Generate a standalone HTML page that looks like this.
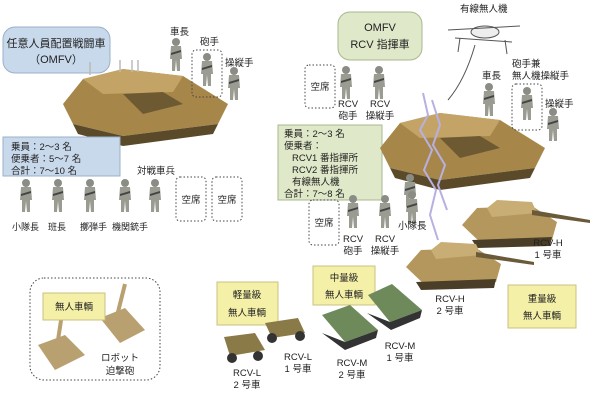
<!DOCTYPE html>
<html><head><meta charset="utf-8"><style>
html,body{margin:0;padding:0;background:#fff;}
svg text{font-family:"Liberation Sans","Noto Sans CJK JP",sans-serif;fill:#222;}
</style></head><body>
<svg width="600" height="400" viewBox="0 0 600 400" xmlns="http://www.w3.org/2000/svg">
<defs>
<g id="sol"><circle cx="0" cy="-13" r="4" fill="#8a8d85"/><path d="M-5,-9 L5,-9 L6,4 L4,4 L4,16 L1,16 L0,5 L-1,16 L-4,16 L-4,4 L-6,4 Z" fill="#9a9c92"/><path d="M-5,-2 L5,-5 L5,-3 L-5,0Z" fill="#444"/></g>
<g id="tank"><path d="M0,40 L20,15 L60,5 L120,12 L165,40 L155,60 L60,72 L10,60 Z" fill="#a7864a"/><path d="M20,15 L60,5 L120,12 L110,28 L40,30 Z" fill="#c4a466"/><path d="M10,60 L60,72 L155,60 L150,70 L60,82 L15,70Z" fill="#5a4a2a"/><path d="M60,30 L100,28 L120,40 L80,50 Z" fill="#6e5a32"/></g>
<g id="mbt"><path d="M0,25 L15,8 L70,6 L95,22 L90,40 L20,44 Z" fill="#b4975c"/><path d="M25,8 L35,0 L70,2 L75,13 L30,17Z" fill="#c8ad74"/><path d="M70,10 L128,20 L128,23 L70,15Z" fill="#6a5a3a"/><path d="M10,40 L90,37 L88,46 L15,48Z" fill="#4a3e28"/></g>
</defs>

<rect x="3" y="27" width="107" height="46" rx="12" fill="#c9d9ec" stroke="#9ab0c8"/>
<text x="56" y="47" font-size="11" text-anchor="middle">任意人員配置戦闘車</text>
<text x="56" y="63" font-size="11" text-anchor="middle">（OMFV）</text>
<use href="#tank" x="63" y="64"/>
<g stroke="#bbb" stroke-width="1.5"><line x1="90" y1="62" x2="90" y2="75"/><line x1="120" y1="60" x2="120" y2="72"/><line x1="132" y1="60" x2="132" y2="72"/><line x1="138" y1="60" x2="138" y2="72"/></g>

<rect x="3" y="137" width="117" height="39" fill="#c9d9ec" stroke="#9ab0c8"/>
<text x="11" y="150" font-size="9.5">乗員：2～3 名</text>
<text x="11" y="162" font-size="9.5">便乗者：5～7 名</text>
<text x="11" y="174" font-size="9.5">合計：7～10 名</text>

<text x="170" y="35" font-size="9.5">車長</text>
<use href="#sol" x="176" y="55"/>
<text x="200" y="45" font-size="9.5">砲手</text>
<rect x="192" y="50" width="30" height="47" rx="4" fill="none" stroke="#444" stroke-dasharray="1.5,2"/>
<use href="#sol" x="207" y="70"/>
<text x="225" y="66" font-size="9.5">操縦手</text>
<use href="#sol" x="234" y="84"/>

<text x="137" y="174" font-size="9.5">対戦車兵</text>
<rect x="176" y="177" width="30" height="44" rx="4" fill="none" stroke="#444" stroke-dasharray="1.5,2"/>
<rect x="212" y="177" width="30" height="44" rx="4" fill="none" stroke="#444" stroke-dasharray="1.5,2"/>
<text x="191" y="203" font-size="9.5" text-anchor="middle">空席</text>
<text x="227" y="203" font-size="9.5" text-anchor="middle">空席</text>
<use href="#sol" x="26" y="196"/><use href="#sol" x="58" y="196"/><use href="#sol" x="90" y="196"/><use href="#sol" x="125" y="196"/><use href="#sol" x="155" y="196"/>
<text x="12" y="230" font-size="9">小隊長</text>
<text x="48" y="230" font-size="9">班長</text>
<text x="80" y="230" font-size="9">擲弾手</text>
<text x="112" y="230" font-size="9">機関銃手</text>

<rect x="338" y="12" width="84" height="48" rx="12" fill="#dfe8c8" stroke="#a8b890"/>
<text x="380" y="31" font-size="11" text-anchor="middle">OMFV</text>
<text x="380" y="48" font-size="11" text-anchor="middle">RCV 指揮車</text>
<text x="460" y="12" font-size="9.5">有線無人機</text>
<g stroke="#555" fill="none"><ellipse cx="485" cy="32" rx="14" ry="6" fill="#eee"/><line x1="448" y1="30" x2="520" y2="26"/><line x1="455" y1="38" x2="512" y2="42"/><line x1="460" y1="38" x2="458" y2="52"/><line x1="505" y1="40" x2="507" y2="54"/><path d="M475,45 Q465,80 448,100"/></g>
<rect x="305" y="65" width="30" height="43" rx="4" fill="none" stroke="#444" stroke-dasharray="1.5,2"/>
<text x="320" y="90" font-size="9.5" text-anchor="middle">空席</text>
<use href="#sol" x="346" y="83"/><use href="#sol" x="379" y="83"/>
<text x="348" y="107" font-size="9.5" text-anchor="middle">RCV</text><text x="348" y="119" font-size="9.5" text-anchor="middle">砲手</text>
<text x="380" y="107" font-size="9.5" text-anchor="middle">RCV</text><text x="380" y="119" font-size="9.5" text-anchor="middle">操縦手</text>

<rect x="278" y="125" width="104" height="75" fill="#dfe8c8" stroke="#a8b890"/>
<text x="284" y="137" font-size="9.5">乗員：2～3 名</text>
<text x="284" y="149" font-size="9.5">便乗者：</text>
<text x="292" y="161" font-size="9.5">RCV1 番指揮所</text>
<text x="292" y="173" font-size="9.5">RCV2 番指揮所</text>
<text x="292" y="185" font-size="9.5">有線無人機</text>
<text x="284" y="197" font-size="9.5">合計：7～8 名</text>

<use href="#tank" x="380" y="108"/>
<text x="482" y="79" font-size="9.5">車長</text>
<use href="#sol" x="489" y="100"/>
<text x="512" y="67" font-size="9.5">砲手兼</text>
<text x="512" y="79" font-size="9.5">無人機操縦手</text>
<rect x="512" y="84" width="30" height="46" rx="4" fill="none" stroke="#444" stroke-dasharray="1.5,2"/>
<use href="#sol" x="527" y="104"/>
<text x="545" y="107" font-size="9.5">操縦手</text>
<use href="#sol" x="553" y="125"/>

<g fill="none" stroke="#b8b0e0" stroke-width="2"><polyline points="423,93 428,115 420,130 432,150 424,170 436,190 430,215 438,240"/><polyline points="432,100 440,125 433,145 445,165 438,185 447,210"/></g>

<use href="#sol" x="410" y="191"/>
<rect x="309" y="200" width="30" height="45" rx="4" fill="none" stroke="#444" stroke-dasharray="1.5,2"/>
<text x="324" y="226" font-size="9.5" text-anchor="middle">空席</text>
<use href="#sol" x="353" y="212"/><use href="#sol" x="385" y="212"/><use href="#sol" x="412" y="208"/>
<text x="353" y="242" font-size="9.5" text-anchor="middle">RCV</text><text x="353" y="254" font-size="9.5" text-anchor="middle">砲手</text>
<text x="385" y="242" font-size="9.5" text-anchor="middle">RCV</text><text x="385" y="254" font-size="9.5" text-anchor="middle">操縦手</text>
<text x="398" y="229" font-size="9.5">小隊長</text>

<use href="#mbt" x="462" y="200"/>
<text x="548" y="246" font-size="9.5" text-anchor="middle">RCV-H</text><text x="548" y="258" font-size="9.5" text-anchor="middle">1 号車</text>
<use href="#mbt" x="406" y="242"/>
<text x="450" y="302" font-size="9.5" text-anchor="middle">RCV-H</text><text x="450" y="314" font-size="9.5" text-anchor="middle">2 号車</text>
<rect x="508" y="285" width="68" height="43" fill="#f5f0a8" stroke="#c8c080"/>
<text x="542" y="302" font-size="9.5" text-anchor="middle">重量級</text><text x="542" y="319" font-size="9.5" text-anchor="middle">無人車輌</text>

<rect x="30" y="278" width="130" height="102" rx="14" fill="none" stroke="#444" stroke-dasharray="1.5,2"/>
<path d="M38,345 L65,335 L85,355 L55,370Z" fill="#b9a070"/><line x1="58" y1="340" x2="62" y2="314" stroke="#b9a070" stroke-width="4"/>
<path d="M100,318 L125,308 L145,330 L120,343Z" fill="#b9a070"/><line x1="118" y1="312" x2="125" y2="284" stroke="#b9a070" stroke-width="4"/>
<rect x="43" y="293" width="62" height="27" fill="#f5f0a8" stroke="#c8c080"/>
<text x="74" y="310" font-size="9.5" text-anchor="middle">無人車輌</text>
<text x="120" y="361" font-size="9.5" text-anchor="middle">ロボット</text><text x="120" y="374" font-size="9.5" text-anchor="middle">迫撃砲</text>

<rect x="217" y="282" width="61" height="43" fill="#f5f0a8" stroke="#c8c080"/>
<text x="247" y="298" font-size="9.5" text-anchor="middle">軽量級</text><text x="247" y="316" font-size="9.5" text-anchor="middle">無人車輌</text>
<rect x="313" y="266" width="62" height="39" fill="#f5f0a8" stroke="#c8c080"/>
<text x="344" y="281" font-size="9.5" text-anchor="middle">中量級</text><text x="344" y="298" font-size="9.5" text-anchor="middle">無人車輌</text>

<path d="M224,337 L255,333 L265,350 L230,356Z" fill="#8a7a48"/><circle cx="232" cy="358" r="5" fill="#333"/><circle cx="258" cy="356" r="5" fill="#333"/>
<path d="M265,323 L298,318 L305,333 L272,338Z" fill="#8a7a48"/><circle cx="272" cy="338" r="5" fill="#333"/><circle cx="300" cy="336" r="5" fill="#333"/>
<text x="298" y="360" font-size="9.5" text-anchor="middle">RCV-L</text><text x="298" y="372" font-size="9.5" text-anchor="middle">1 号車</text>
<text x="247" y="376" font-size="9.5" text-anchor="middle">RCV-L</text><text x="247" y="388" font-size="9.5" text-anchor="middle">2 号車</text>
<path d="M322,315 L350,305 L378,330 L345,342Z" fill="#6e8a5a"/><path d="M322,333 L345,342 L378,330 L376,338 L345,350 Z" fill="#333"/>
<path d="M368,295 L392,284 L422,310 L390,322Z" fill="#6e8a5a"/><path d="M367,313 L390,322 L422,310 L420,318 L391,330Z" fill="#333"/>
<text x="352" y="366" font-size="9.5" text-anchor="middle">RCV-M</text><text x="352" y="378" font-size="9.5" text-anchor="middle">2 号車</text>
<text x="400" y="349" font-size="9.5" text-anchor="middle">RCV-M</text><text x="400" y="361" font-size="9.5" text-anchor="middle">1 号車</text>
</svg>
</body></html>
